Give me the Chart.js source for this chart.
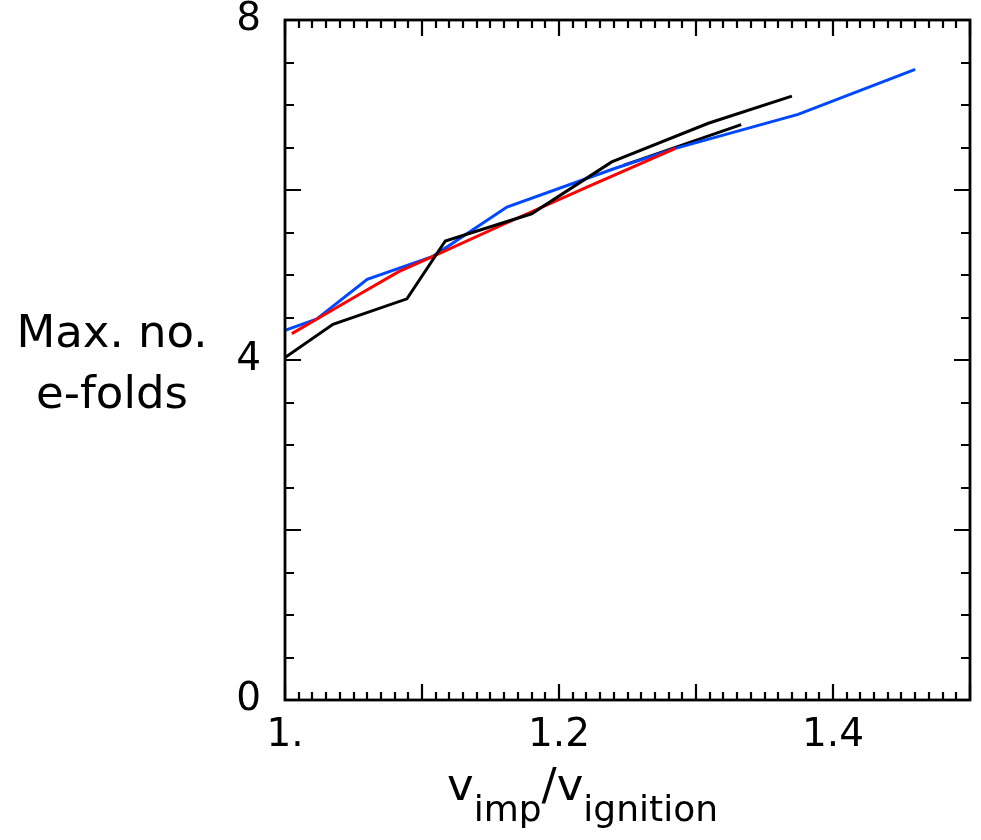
<!DOCTYPE html>
<html>
<head>
<meta charset="utf-8">
<script src="https://cdn.jsdelivr.net/npm/chart.js@4.4.1/dist/chart.umd.min.js"></script>
<style>
  html, body { margin: 0; padding: 0; background: #ffffff; }
  #wrap { width: 981px; height: 840px; }
</style>
</head>
<body>
<div id="wrap"><canvas id="c" width="981" height="840"></canvas></div>
<script>
// ---- data ----
const blueX   = [1.0, 1.023, 1.06, 1.108, 1.162, 1.24, 1.285, 1.3745, 1.46];
const blueY   = [4.35, 4.48, 4.95, 5.22, 5.80, 6.25, 6.49, 6.89, 7.42];
const redX    = [1.005, 1.023, 1.055, 1.083, 1.108, 1.16, 1.22, 1.285];
const redY    = [4.31, 4.48, 4.78, 5.04, 5.22, 5.60, 6.03, 6.49];
const blackAX = [1.0, 1.035, 1.089, 1.117, 1.18, 1.2385, 1.309, 1.37];
const blackAY = [4.03, 4.42, 4.72, 5.40, 5.72, 6.33, 6.785, 7.105];
const blackBX = [1.247, 1.333];
const blackBY = [6.29, 6.77];

const xTickValues = [1.0, 1.2, 1.4];
const xTickLabels = ['1.', '1.2', '1.4'];
const yTickValues = [0, 4, 8];
const yTickLabels = ['0', '4', '8'];

const yTitleLines = ['Max. no.', 'e-folds'];
const xTitleParts = [
  { t: 'v', sub: false }, { t: 'imp', sub: true },
  { t: '/', sub: false }, { t: 'v', sub: false }, { t: 'ignition', sub: true }
];

const FONT = '"DejaVu Sans", "Liberation Sans", sans-serif';

function pts(xs, ys) { return xs.map((x, i) => ({ x: x, y: ys[i] })); }

const framePlugin = {
  id: 'frame',
  afterDatasetsDraw(chart) {
    const ctx = chart.ctx;
    const a = chart.chartArea;
    const xs = chart.scales.x, ys = chart.scales.y;
    ctx.save();
    ctx.strokeStyle = '#000';
    // ticks (pointing inward, on all four sides)
    ctx.lineWidth = 2.2;
    ctx.beginPath();
    for (let k = 0; k <= 50; k++) {
      const v = 1 + k * 0.01;
      const px = Math.round(xs.getPixelForValue(v));
      const len = (k % 10 === 0) ? 16 : 8;
      ctx.moveTo(px, a.bottom); ctx.lineTo(px, a.bottom - len);
      ctx.moveTo(px, a.top); ctx.lineTo(px, a.top + len);
    }
    for (let k = 0; k <= 16; k++) {
      const v = k * 0.5;
      const py = Math.round(ys.getPixelForValue(v));
      const len = (k % 4 === 0) ? 16 : 9;
      ctx.moveTo(a.left, py); ctx.lineTo(a.left + len, py);
      ctx.moveTo(a.right, py); ctx.lineTo(a.right - len, py);
    }
    ctx.stroke();
    // frame
    ctx.lineWidth = 2.8;
    ctx.strokeRect(a.left, a.top, a.right - a.left, a.bottom - a.top);

    // y title (horizontal, two lines)
    ctx.fillStyle = '#000';
    ctx.font = '45px ' + FONT;
    ctx.textAlign = 'center';
    ctx.textBaseline = 'alphabetic';
    ctx.fillText(yTitleLines[0], 112, 347);
    ctx.fillText(yTitleLines[1], 112, 408);

    // x title with subscripts
    ctx.textAlign = 'left';
    let x = 447;
    xTitleParts.forEach(p => {
      ctx.font = (p.sub ? '36px ' : '45px ') + FONT;
      ctx.fillText(p.t, x, p.sub ? 821 : 800);
      x += ctx.measureText(p.t).width;
    });
    ctx.restore();
  }
};

new Chart(document.getElementById('c'), {
  type: 'line',
  data: {
    datasets: [
      { label: 'black A', data: pts(blackAX, blackAY), borderColor: '#000000', order: 0 },
      { label: 'red',     data: pts(redX, redY),       borderColor: '#ff0000', order: 1 },
      { label: 'blue',    data: pts(blueX, blueY),     borderColor: '#0048ff', order: 2 },
      { label: 'black B', data: pts(blackBX, blackBY), borderColor: '#000000', order: 3 }
    ]
  },
  options: {
    responsive: false,
    devicePixelRatio: 1,
    animation: false,
    layout: { padding: { left: 0, top: 20, right: 11, bottom: 0 } },
    elements: {
      line: { borderWidth: 3, tension: 0, fill: false, borderCapStyle: 'butt', borderJoinStyle: 'miter' },
      point: { radius: 0, hoverRadius: 0 }
    },
    plugins: { legend: { display: false }, tooltip: { enabled: false } },
    scales: {
      x: {
        type: 'linear', min: 1.0, max: 1.5,
        afterFit(scale) { scale.height = 140; scale.paddingLeft = 0; scale.paddingRight = 0; },
        afterBuildTicks(scale) { scale.ticks = xTickValues.map(v => ({ value: v })); },
        border: { display: false },
        grid: { display: false, drawTicks: false },
        ticks: {
          padding: 12, autoSkip: false, maxRotation: 0,
          color: '#000', font: { family: FONT, size: 39 },
          callback(value, index) { return xTickLabels[index]; }
        }
      },
      y: {
        type: 'linear', min: 0, max: 8,
        afterFit(scale) { scale.width = 285; scale.paddingTop = 0; scale.paddingBottom = 0; },
        afterBuildTicks(scale) { scale.ticks = yTickValues.map(v => ({ value: v })); },
        border: { display: false },
        grid: { display: false, drawTicks: false },
        ticks: {
          padding: 24, autoSkip: false,
          color: '#000', font: { family: FONT, size: 39 },
          callback(value, index) { return yTickLabels[index]; }
        }
      }
    }
  },
  plugins: [framePlugin]
});
</script>
</body>
</html>
